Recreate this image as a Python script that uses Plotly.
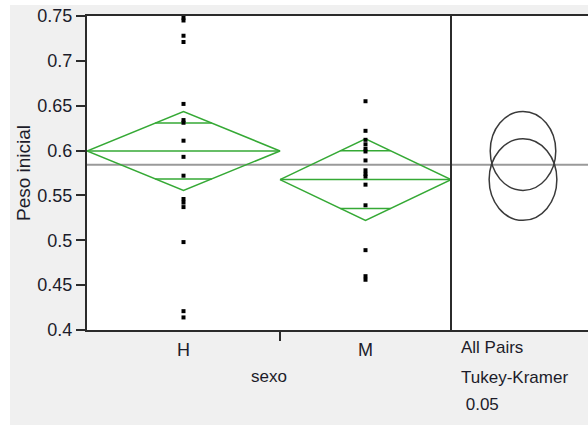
import numpy as np
import plotly.graph_objects as go

# ---------------- data ----------------
groups = ["H", "M"]
peso_H = [0.748, 0.745, 0.728, 0.721, 0.652, 0.634, 0.631, 0.611, 0.593,
          0.572, 0.546, 0.542, 0.537, 0.498, 0.421, 0.414]
peso_M = [0.655, 0.622, 0.612, 0.607, 0.602, 0.599, 0.589, 0.578, 0.574,
          0.571, 0.562, 0.539, 0.489, 0.460, 0.456]
y_tick_vals = [0.4, 0.45, 0.5, 0.55, 0.6, 0.65, 0.7, 0.75]
y_tick_text = ["0.4", "0.45", "0.5", "0.55", "0.6", "0.65", "0.7", "0.75"]
y_title = "Peso inicial"
x_title = "sexo"
test_lines = ["All Pairs", "Tukey-Kramer", "\u00a00.05"]
t_crit = 2.0452  # Student t, 0.975 quantile, df = 29

# ---------------- style / layout constants ----------------
W, H = 588, 425
ML, MR, MT, MB = 87, 0, 16, 95
plot_w = W - ML - MR
plot_h = H - MT - MB
left_w = 364                 # width (px) of the category panel
group_widths = [193, 171]    # diamond widths (px)
circle_cx = 72               # centre of comparison circles inside right panel
stretch = 0.83               # horizontal/vertical pixel ratio of circles
y_range = [0.4, 0.75]
green = "#35a935"
dark = "#2b2b2b"
font_fam = "Liberation Sans, Arial, sans-serif"
txt_col = "#1c1c2a"

# ---------------- statistics ----------------
data = [np.array(peso_H), np.array(peso_M)]
means = [d.mean() for d in data]
ns = [len(d) for d in data]
grand_mean = np.concatenate(data).mean()
ss = sum(((d - d.mean()) ** 2).sum() for d in data)
df = sum(ns) - len(data)
sp = np.sqrt(ss / df)
half = [t_crit * sp / np.sqrt(n) for n in ns]

edges = np.concatenate([[0], np.cumsum(group_widths)])
centers = (edges[:-1] + edges[1:]) / 2

fig = go.Figure()

for i, g in enumerate(groups):
    m, h = means[i], half[i]
    lft, rgt, c = edges[i], edges[i + 1], centers[i]
    hw = (rgt - lft) / 2
    fig.add_trace(go.Scatter(
        x=[lft, c, rgt, c, lft], y=[m, m + h, m, m - h, m],
        mode="lines", line=dict(color=green, width=1.5),
        hoverinfo="skip", showlegend=False, xaxis="x", yaxis="y"))
    fig.add_trace(go.Scatter(
        x=[lft, rgt], y=[m, m], mode="lines",
        line=dict(color=green, width=1.5),
        hoverinfo="skip", showlegend=False, xaxis="x", yaxis="y"))
    ow = hw * (1 - 1 / np.sqrt(2))
    for s in (1, -1):
        yy = m + s * h / np.sqrt(2)
        fig.add_trace(go.Scatter(
            x=[c - ow, c + ow], y=[yy, yy], mode="lines",
            line=dict(color=green, width=1.5),
            hoverinfo="skip", showlegend=False, xaxis="x", yaxis="y"))

for i, g in enumerate(groups):
    fig.add_trace(go.Scatter(
        x=[centers[i]] * ns[i], y=data[i], mode="markers",
        marker=dict(symbol="square", size=4, color="black", line=dict(width=0)),
        name=g, showlegend=False, xaxis="x", yaxis="y"))

fig.add_trace(go.Scatter(x=[0], y=[grand_mean], mode="markers",
                         marker=dict(opacity=0), hoverinfo="skip",
                         showlegend=False, xaxis="x2", yaxis="y"))

px_per_y = plot_h / (y_range[1] - y_range[0])
shapes = []
# white strips outside the grey panel (top and left)
shapes.append(dict(type="rect", xref="paper", yref="paper",
                   x0=-ML / plot_w - 0.05, x1=1.05,
                   y0=(MT + plot_h - 5) / plot_h, y1=(MT + plot_h + 5) / plot_h,
                   fillcolor="white", line=dict(width=0), layer="below"))
shapes.append(dict(type="rect", xref="paper", yref="paper",
                   x0=-ML / plot_w - 0.05, x1=(10 - ML) / plot_w,
                   y0=-MB / plot_h - 0.05, y1=(MT + plot_h + 5) / plot_h,
                   fillcolor="white", line=dict(width=0), layer="below"))
# grand mean line
shapes.append(dict(type="line", xref="paper", yref="y", x0=0, x1=1,
                   y0=grand_mean, y1=grand_mean,
                   line=dict(color="#9a9a9a", width=2), layer="below"))
# divider
dx = left_w / plot_w
shapes.append(dict(type="line", xref="paper", yref="paper", x0=dx, x1=dx,
                   y0=0, y1=1, line=dict(color=dark, width=2)))
# comparison circles
for i in range(len(groups)):
    r = half[i]
    rx = r * px_per_y * stretch
    shapes.append(dict(type="circle", xref="x2", yref="y",
                       x0=circle_cx - rx, x1=circle_cx + rx,
                       y0=means[i] - r, y1=means[i] + r,
                       line=dict(color="#3a3a3a", width=1.5)))

annotations = []
ann_y = [347, 377, 404]
for txt, py in zip(test_lines, ann_y):
    annotations.append(dict(text=txt, xref="x2", yref="paper", x=8,
                            y=(MT + plot_h - py) / plot_h,
                            xanchor="left", yanchor="middle", showarrow=False,
                            font=dict(size=17, color=txt_col, family=font_fam)))

fig.update_layout(
    width=W, height=H,
    margin=dict(l=ML, r=MR, t=MT, b=MB, autoexpand=False),
    paper_bgcolor="#f0f0f0", plot_bgcolor="white",
    font=dict(family=font_fam, color=txt_col),
    shapes=shapes, annotations=annotations,
    xaxis=dict(domain=[0, dx], range=[0, left_w], anchor="y", automargin=False,
               tickvals=list(centers), ticktext=groups, ticks="",
               ticklabelstandoff=2,
               tickfont=dict(size=18),
               minor=dict(tickvals=[edges[1]], ticks="outside", ticklen=9,
                          tickwidth=2, tickcolor=dark),
               showline=True, linecolor=dark, linewidth=2, mirror=True,
               showgrid=False, zeroline=False,
               title=dict(text=x_title, font=dict(size=17), standoff=12)),
    xaxis2=dict(domain=[dx, 1], range=[0, plot_w - left_w], anchor="y",
                automargin=False, showticklabels=False, ticks="",
                showline=True, linecolor=dark, linewidth=2, mirror=True,
                showgrid=False, zeroline=False),
    yaxis=dict(range=y_range, anchor="x", automargin=False,
               tickvals=y_tick_vals,
               ticktext=y_tick_text, ticks="outside", ticklen=9, tickwidth=2,
               tickcolor=dark, tickfont=dict(size=18),
               showline=True, linecolor=dark, linewidth=2,
               showgrid=False, zeroline=False,
               title=dict(text=y_title, font=dict(size=19), standoff=2)),
)

fig.write_html("out.html",
               config={"displayModeBar": False},
               post_script="document.body.style.margin='0px';")
